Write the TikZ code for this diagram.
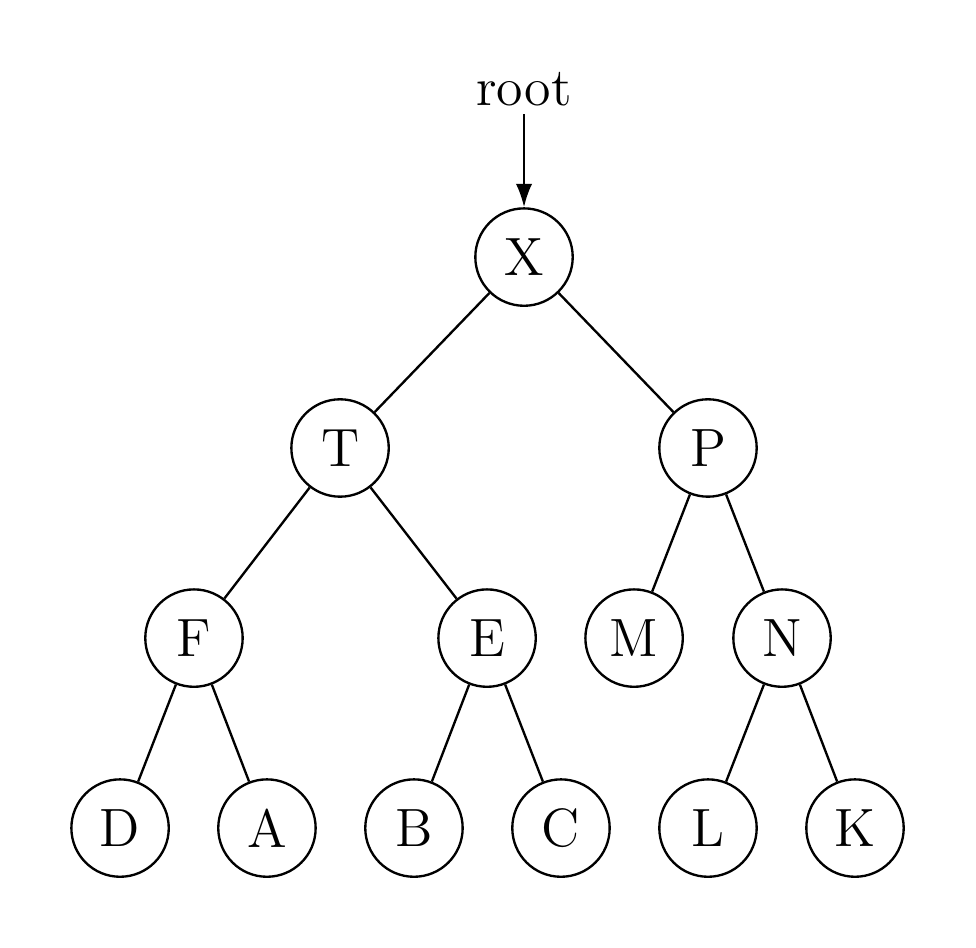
\documentclass[tikz,border=0pt]{standalone}
\usetikzlibrary{positioning,arrows.meta}
\tikzset{
  vertex/.style={circle,draw,line width=0.5pt,minimum size=0.73cm,inner sep=0pt},
  >={Latex[length=5pt,width=3.5pt]}
}
\begin{document}
\begin{tikzpicture}[line width=0.5pt,every node/.style={font=\fontsize{11.5}{14}\selectfont}]
    \useasboundingbox (0,0) rectangle (7.316,-7.106);
    \node at (3.928, -0.667) [inner sep=1.5pt] (root) {root};
    \node at (3.928, -1.927) [vertex] (X) {X};
    \node at (2.549, -3.358) [vertex] (T) {T};
    \node at (5.307, -3.358) [vertex] (P) {P};
    \node at (1.454, -4.783) [vertex] (F) {F};
    \node at (3.651, -4.783) [vertex] (E) {E};
    \node at (4.753, -4.783) [vertex] (M) {M};
    \node at (5.862, -4.783) [vertex] (N) {N};

    \node at (0.900, -6.207) [vertex] (D) {D};
    \node at (2.001, -6.207) [vertex] (A) {A};
    \node at (3.103, -6.207) [vertex] (B) {B};
    \node at (4.205, -6.207) [vertex] (C) {C};
    \node at (5.307, -6.207) [vertex] (L) {L};
    \node at (6.409, -6.207) [vertex] (K) {K};
    \path
    (X) edge (T)
    (X) edge (P)

    (T) edge (F)
    (T) edge (E)
    (P) edge (M)
    (P) edge (N)

    (F) edge (D)
    (F) edge (A)
    (E) edge (B)
    (E) edge (C)
    (N) edge (L)
    (N) edge (K);

    \draw[->] (root.south) -- (X.north);
\end{tikzpicture}
\end{document}
